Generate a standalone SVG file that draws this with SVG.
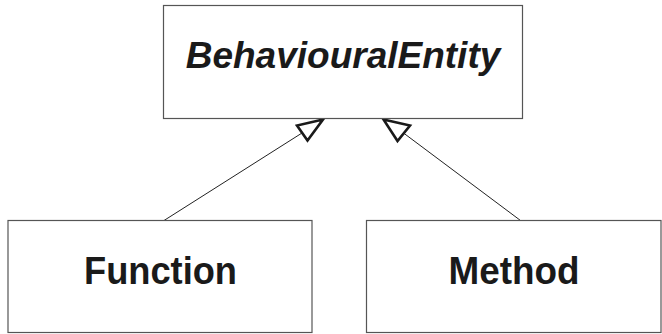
<svg xmlns="http://www.w3.org/2000/svg" width="662" height="334" viewBox="0 0 662 334">
<defs>
<style>
.box{fill:#fff;stroke:#555;stroke-width:1.2}
.lbl{font-family:"Liberation Sans",Arial,sans-serif;font-weight:bold;font-size:37px;fill:#1a1a1a;text-anchor:middle}
.big{font-size:39px}
.edge{stroke:#222;stroke-width:1;fill:none}
.head{fill:#fff;stroke:#1a1a1a;stroke-width:2.6;stroke-linejoin:miter}
</style>
</defs>
<rect width="662" height="334" fill="#fff"/>
<g id="connectors">
<line class="edge" x1="164" y1="220.5" x2="302" y2="133"/>
<polygon class="head" points="323,119.5 297,125.5 307.5,140.5"/>
<line class="edge" x1="520.5" y1="220.5" x2="403.5" y2="133"/>
<polygon class="head" points="383.5,119.5 410,125.5 397.5,141"/>
</g>
<g id="BehaviouralEntity">
<rect class="box" x="163.5" y="5.5" width="359" height="113"/>
<text class="lbl" x="343" y="68" font-style="italic">BehaviouralEntity</text>
</g>
<g id="Function">
<rect class="box" x="8" y="220.5" width="304" height="112"/>
<text class="lbl big" x="160.5" y="284" textLength="153" lengthAdjust="spacingAndGlyphs">Function</text>
</g>
<g id="Method">
<rect class="box" x="366.5" y="220.5" width="294.5" height="112"/>
<text class="lbl big" x="514" y="284" textLength="131" lengthAdjust="spacingAndGlyphs">Method</text>
</g>
</svg>
